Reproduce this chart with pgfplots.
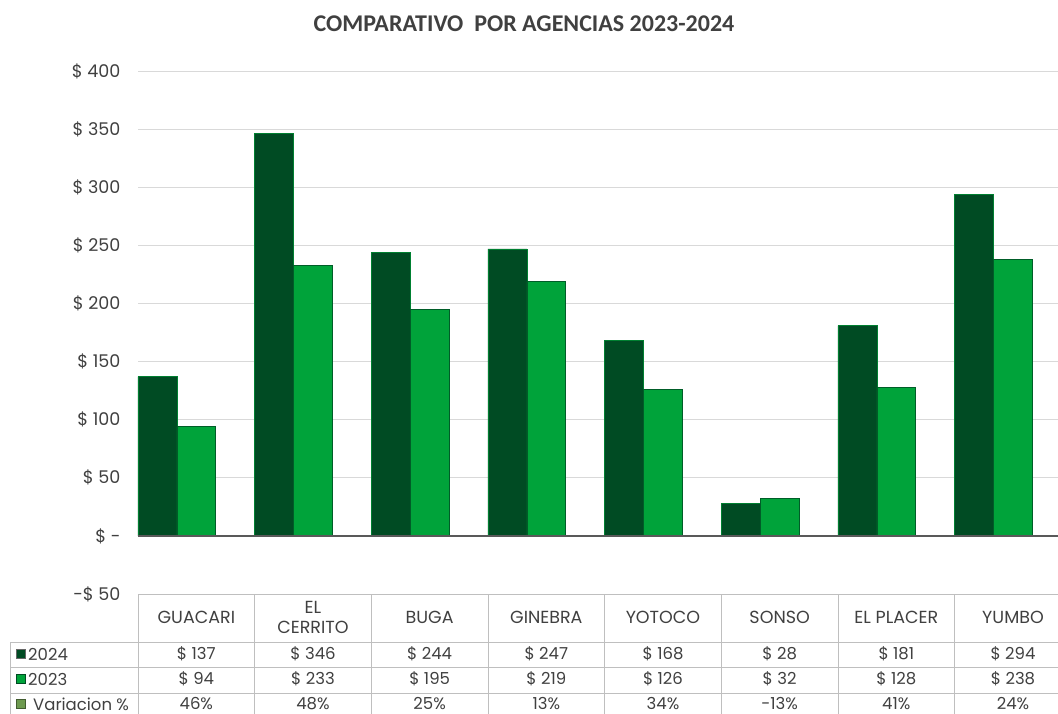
\documentclass[border=0pt]{standalone}
\usepackage{fontspec}
\setmainfont{Poppins}
\newfontfamily\titlefont{Carlito}
\usepackage{pgfplots}
\pgfplotsset{compat=1.18}
\definecolor{c24}{HTML}{004B23}
\definecolor{c23}{HTML}{00A33A}
\definecolor{cvar}{HTML}{6E9A50}
\definecolor{gridc}{HTML}{D9D9D9}
\definecolor{tline}{HTML}{BFBFBF}
\definecolor{txt}{HTML}{404040}
\definecolor{zero}{HTML}{595959}
\begin{document}
\begin{tikzpicture}[x=1pt,y=1pt]
\useasboundingbox (0,0) rectangle (1058,713);
\begin{axis}[
  at={(138pt,119pt)}, anchor=south west, scale only axis,
  width=933.3pt, height=523pt,
  xmin=-0.5, xmax=7.5, ymin=-50, ymax=400,
  ybar=0pt, bar width=38.89pt,
  xtick=\empty,
  ytick={-50,0,50,100,150,200,250,300,350,400},
  yticklabels={-\$ 50,\$ -,\$ 50,\$ 100,\$ 150,\$ 200,\$ 250,\$ 300,\$ 350,\$ 400},
  yticklabel style={font=\fontsize{17.5}{20}\selectfont, text=txt, xshift=-14pt},
  ymajorgrids, grid style={gridc, line width=0.8pt},
  axis line style={draw=none}, major tick length=0pt,
  clip=false,
]
\addplot[fill=c24, draw=c23!60!c24, line width=0.6pt] coordinates {(0,137)(1,346)(2,244)(3,247)(4,168)(5,28)(6,181)(7,294)};
\addplot[fill=c23, draw=c24!80!c23, line width=0.6pt] coordinates {(0,94)(1,233)(2,195)(3,219)(4,126)(5,32)(6,128)(7,238)};
\addplot[fill=cvar, draw=cvar!50!black, line width=1.3pt] coordinates {(0,0.46)(1,0.48)(2,0.25)(3,0.13)(4,0.34)(5,-0.13)(6,0.41)(7,0.24)};
\draw[zero, line width=1.5pt] (axis cs:-0.5,0) -- (axis cs:7.5,0);
\end{axis}
% title
\node[text=txt, font=\titlefont\bfseries\fontsize{24}{28}\selectfont] at (524,689) {COMPARATIVO\ \ POR AGENCIAS 2023-2024};
% table grid
\begin{scope}[tline, line width=0.9pt]
\draw (138,119) -- (1072,119);
\draw (10,71) -- (1072,71);
\draw (10,46) -- (1072,46);
\draw (10,20) -- (1072,20);
\draw (10,71) -- (10,-6);
\foreach \k in {0,...,8} { \draw ({138+116.667*\k},119) -- ({138+116.667*\k},-6); }
\end{scope}
% header
\begin{scope}[font=\fontsize{16.5}{20}\selectfont, text=txt]
\foreach \k/\n in {0/GUACARI,1/{EL\\CERRITO},2/BUGA,3/GINEBRA,4/YOTOCO,5/SONSO,6/EL PLACER,7/YUMBO}
  { \node[align=center, font=\fontsize{17.5}{20}\selectfont] at ({196.33+116.667*\k},96) {\n}; }
\foreach \k/\a/\b/\c in {0/137/94/46\%,1/346/233/48\%,2/244/195/25\%,3/247/219/13\%,4/168/126/34\%,5/28/32/-13\%,6/181/128/41\%,7/294/238/24\%}
  { \node at ({196.33+116.667*\k},59) {\$ \a};
    \node at ({196.33+116.667*\k},34) {\$ \b};
    \node at ({196.33+116.667*\k},9) {\c}; }
\fill[c24, draw=black!60, line width=0.4pt] (16,54.5) rectangle (25,63.5);
\fill[c23, draw=c24, line width=0.4pt] (16,29.5) rectangle (25,38.5);
\fill[cvar, draw=cvar!60!black, line width=0.4pt] (16,4.5) rectangle (25,13.5);
\node[anchor=west, inner sep=0pt] at (28,59) {2024};
\node[anchor=west, inner sep=0pt] at (28,34) {2023};
\node[anchor=west, inner sep=0pt] at (33,9) {Variacion \%};
\end{scope}
\end{tikzpicture}
\end{document}
